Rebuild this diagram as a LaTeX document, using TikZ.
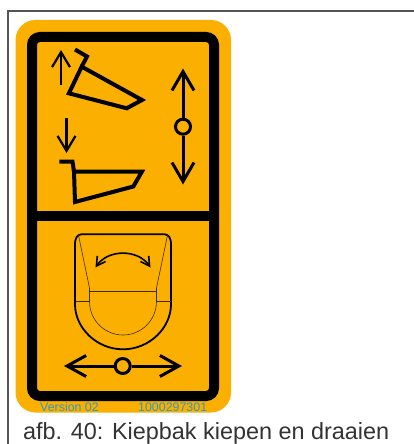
\documentclass[tikz,border=0pt]{standalone}
\usepackage{fontspec}
\setmainfont{Liberation Sans}
\usetikzlibrary{arrows.meta}
\definecolor{plate}{HTML}{FBAF00}
\definecolor{framegray}{HTML}{555555}
\definecolor{printblue}{HTML}{2C9CC4}
\definecolor{captiongray}{HTML}{333333}
\tikzset{
  bucket/.style={line width=4pt, miter limit=10},
  move/.style={line width=2.2pt},
  lever/.style={line width=3pt},
  thinline/.style={line width=0.6pt, draw=black!75!plate},
  small print/.style={text=printblue, font=\fontsize{12.4}{14}\selectfont, inner sep=0pt, anchor=base west}
}
\begin{document}
\begin{tikzpicture}[x=1pt,y=-1pt]
  \useasboundingbox (0,0) rectangle (414,444);
  \fill[white] (0,0) rectangle (414,444);
  \draw[framegray, line width=1.2pt] (414,11) -- (8,11) -- (8,444);
  % plate and frame
  \fill[plate, rounded corners=20pt] (15.5,20) rectangle (231,412.5);
  \draw[line width=10pt, rounded corners=8pt] (32,37) rectangle (214,396);
  \draw[line width=10pt] (32,216) -- (214,216);
  % bucket raised
  \coordinate (A) at (81.7,66.7); \coordinate (B) at (142,100);
  \coordinate (C) at (126.7,108.3); \coordinate (D) at (68.9,93.3);
  \coordinate (H) at (87,56.5); \coordinate (G) at (75,49.5);
  \draw[bucket] (A) -- (B) -- (C) -- (D) -- cycle;
  \draw[bucket] (G) -- (H) -- (A);
  \draw[move, -{Straight Barb[length=15pt,width=18pt]}] (61,85) -- (61,50);
  % bucket lowered
  \coordinate (P) at (74,171.5); \coordinate (Q) at (142,171.5);
  \coordinate (R) at (133.3,186.5); \coordinate (S) at (75,202);
  \coordinate (T) at (72.5,161.7); \coordinate (U) at (59.3,161.7);
  \draw[bucket] (P) -- (Q) -- (R) -- (S) -- cycle;
  \draw[bucket] (U) -- (T) -- (P);
  \draw[move, -{Straight Barb[length=15pt,width=18pt]}] (66.5,118) -- (66.5,153);
  % vertical lever
  \node[circle, draw, lever, minimum size=15pt, inner sep=0pt] (lift) at (183,126.7) {};
  \coordinate (up) at (183,68.5); \coordinate (down) at (183,184.5);
  \draw[lever, -{Straight Barb[length=19pt,width=22pt]}] (lift) -- (up);
  \draw[lever, -{Straight Barb[length=19pt,width=22pt]}] (lift) -- (down);
  % bucket from above
  \draw[line width=1.8pt, rounded corners=3pt] (123,349.3) arc (90:180:48) -- (75,240) -- (78.3,234.3) -- (167.7,234.3) -- (171,240) -- (171,301.3) arc (0:90:48);
  \draw[thinline] (78.3,234.3) -- (89.5,288) -- (89.5,301.5) arc (180:0:33.5) -- (156.5,288) -- (167.7,234.3);
  \draw[thinline] (89.5,291) -- (156.5,291);
  \draw[thinline] (75.5,301) -- (89.5,301) (156.5,301) -- (170.5,301);
  \draw[line width=1.6pt, {Straight Barb[length=9pt,width=10pt]}-{Straight Barb[length=9pt,width=10pt]}] (95.5,267.5) .. controls (108,249) and (138,249) .. (150.5,267.5);
  % horizontal lever
  \node[circle, draw, lever, minimum size=15pt, inner sep=0pt] (swing) at (122.7,366) {};
  \coordinate (left) at (64,366); \coordinate (right) at (182,366);
  \draw[lever, -{Straight Barb[length=19pt,width=21pt]}] (swing) -- (left);
  \draw[lever, -{Straight Barb[length=19pt,width=21pt]}] (swing) -- (right);
  % texts
  \node[small print] (version) at (40,411) {Version 02};
  \node[small print] (number) at (138,411) {1000297301};
  \node[text=captiongray, font=\fontsize{23.4}{26}\selectfont, inner sep=0pt, anchor=base west] (caption) at (23,439) {afb. 40: Kiepbak kiepen en draaien};
\end{tikzpicture}
\end{document}
